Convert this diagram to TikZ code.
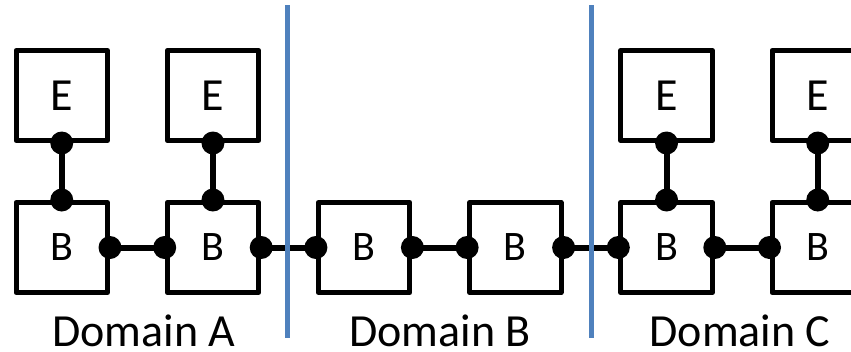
\documentclass[tikz,border=0pt]{standalone}
\usepackage{fontspec}
\setmainfont{Carlito}
\definecolor{divblue}{HTML}{4F81BD}
\tikzset{
  box/.style={draw=black, line width=5pt, line join=round, minimum width=91.5pt, minimum height=90pt, inner sep=0pt, font=\fontsize{42}{42}\selectfont},
  ebox/.style={box, font=\fontsize{46}{46}\selectfont},
  link/.style={line width=6pt, draw=black},
  divider/.style={line width=5pt, draw=divblue},
  domlabel/.style={anchor=base, inner sep=0pt, font=\fontsize{46}{46}\selectfont}
}
\newcommand{\portdot}[1]{\fill[black] (#1) circle (11.5pt);}
\begin{document}
\begin{tikzpicture}[x=1pt,y=-1pt]
\useasboundingbox (0,0) rectangle (851,351);
\clip (0,0) rectangle (851,351);
\fill[white] (0,0) rectangle (851,351);
% B boxes
\node[box] (b1) at (61.75,247.5) {B};
\node[box] (b2) at (212.95,247.5) {B};
\node[box] (b3) at (364.15,247.5) {B};
\node[box] (b4) at (515.35,247.5) {B};
\node[box] (b5) at (666.55,247.5) {B};
\node[box] (b6) at (817.75,247.5) {B};
% E boxes
\node[ebox] (e1) at (61.75,95.5) {E};
\node[ebox] (e2) at (212.95,95.5) {E};
\node[ebox] (e5) at (666.55,95.5) {E};
\node[ebox] (e6) at (817.75,95.5) {E};
% links
\draw[link] (b1.east) -- (b2.west);
\draw[link] (b2.east) -- (b3.west);
\draw[link] (b3.east) -- (b4.west);
\draw[link] (b4.east) -- (b5.west);
\draw[link] (b5.east) -- (b6.west);
\draw[link] (e1.south) -- (b1.north);
\draw[link] (e2.south) -- (b2.north);
\draw[link] (e5.south) -- (b5.north);
\draw[link] (e6.south) -- (b6.north);
% dots
\portdot{b1.east}
\portdot{b2.west}\portdot{b2.east}
\portdot{b3.west}\portdot{b3.east}
\portdot{b4.west}\portdot{b4.east}
\portdot{b5.west}\portdot{b5.east}
\portdot{b6.west}
\portdot{e1.south}\portdot{b1.north}
\portdot{e2.south}\portdot{b2.north}
\portdot{e5.south}\portdot{b5.north}
\portdot{e6.south}\portdot{b6.north}
% dividers
\coordinate (d1t) at (287,5);
\coordinate (d1b) at (287,338);
\coordinate (d2t) at (591,5);
\coordinate (d2b) at (591,338);
\draw[divider] (d1t) -- (d1b);
\draw[divider] (d2t) -- (d2b);
% labels
\node[domlabel] (la) at (144,346) {Domain A};
\node[domlabel] (lb) at (440,346) {Domain B};
\node[domlabel] (lc) at (740,346) {Domain C};
\end{tikzpicture}
\end{document}
